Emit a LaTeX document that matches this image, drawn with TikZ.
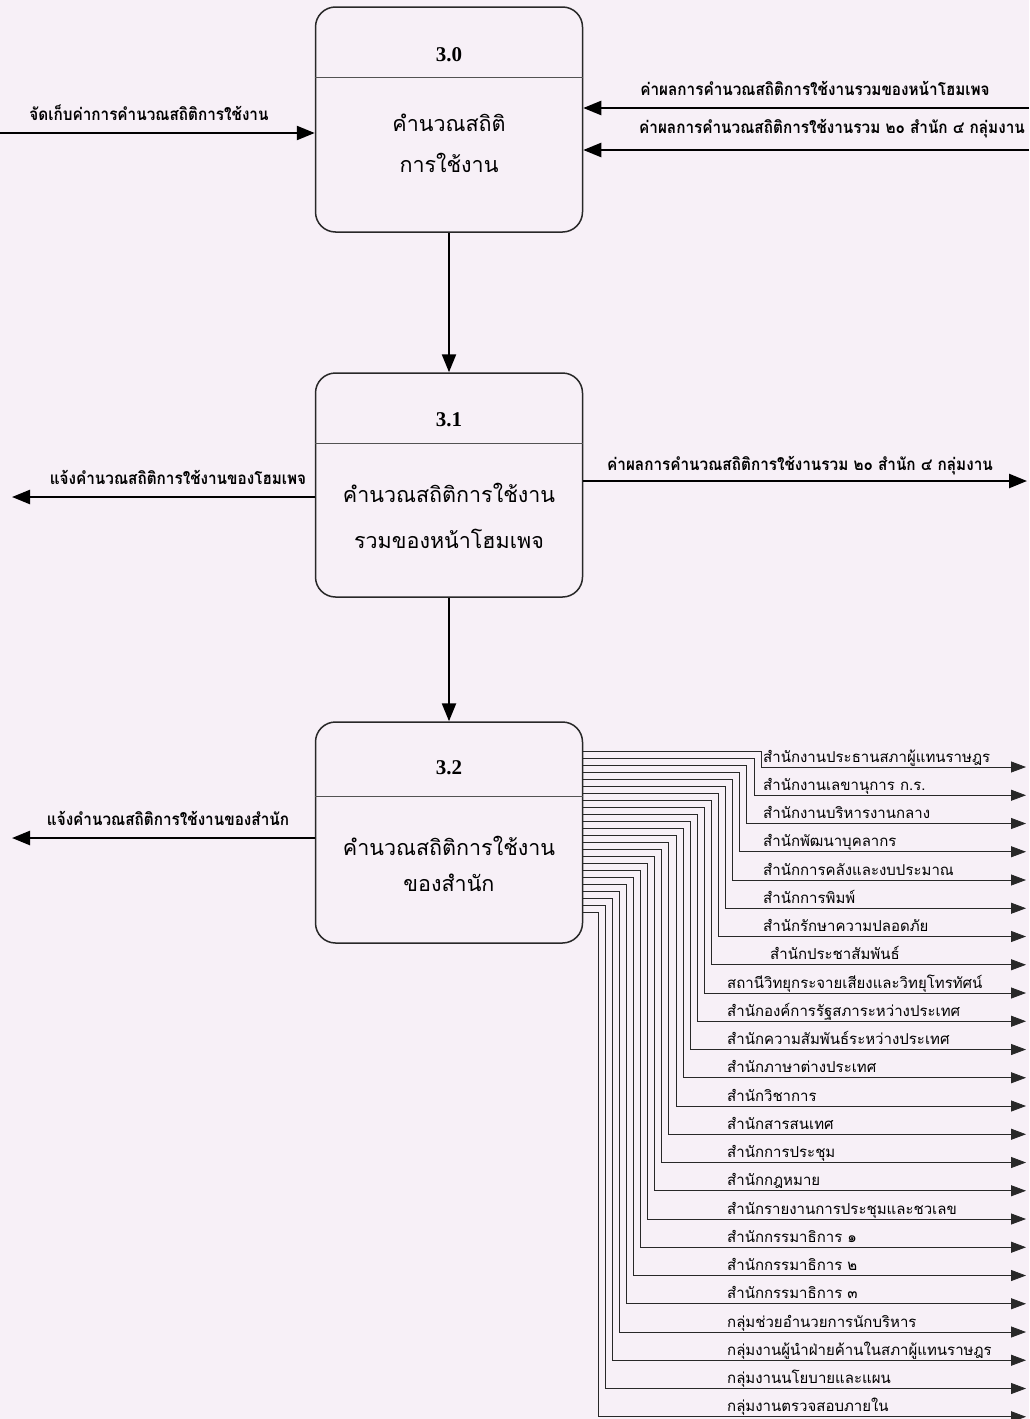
\documentclass[tikz,border=0pt]{standalone}
\usepackage{fontspec}
\setmainfont{Liberation Serif}
\newfontfamily\thai[Script=Thai]{Loma}
\newfontfamily\thaic[Script=Thai,FakeStretch=0.9]{Loma}
\usetikzlibrary{arrows.meta,calc}
\definecolor{bgc}{RGB}{247,240,247}
\definecolor{ln}{RGB}{40,40,40}
\begin{document}
\begin{tikzpicture}[x=1pt,y=-1pt,
  procbox/.style={draw=ln,line width=1.5pt,rounded corners=20pt,minimum width=267pt,inner sep=0pt},
  divider/.style={draw=ln!80,line width=0.9pt},
  numtxt/.style={font=\fontsize{21}{24}\selectfont\bfseries,inner sep=0pt},
  boxtxt/.style={font=\thai\fontsize{21.5}{26}\selectfont,inner sep=0pt},
  flowlbl/.style={font=\thaic\bfseries\fontsize{17}{19}\selectfont,inner sep=0pt},
  listlbl/.style={font=\thai\fontsize{15}{17}\selectfont,inner sep=0pt,anchor=base west},
  bigarrow/.style={draw=black,line width=2.4pt,-{Triangle[length=18pt,width=14pt]}},
  busline/.style={draw=ln,line width=0.8pt,-{Triangle[length=15pt,width=11pt]}}
]
\fill[bgc] (0,0) rectangle (1029,1419);
\useasboundingbox (0,0) rectangle (1029,1419);

% process boxes
\node[procbox,minimum height=225pt] (p30) at (449,119.5) {};
\node[procbox,minimum height=224pt] (p31) at (449,485) {};
\node[procbox,minimum height=221pt] (p32) at (449,832.5) {};

\draw[divider] (p30.west |- 0,77) -- (p30.east |- 0,77);
\draw[divider] (p31.west |- 0,443) -- (p31.east |- 0,443);
\draw[divider] (p32.west |- 0,796) -- (p32.east |- 0,796);

\node[numtxt] (n30) at (449,55) {3.0};
\node[numtxt] (n31) at (449,420) {3.1};
\node[numtxt] (n32) at (449,768) {3.2};

\node[boxtxt] (t30a) at (449,123) {คำนวณสถิติ};
\node[boxtxt] (t30b) at (449,163) {การใช้งาน};
\node[boxtxt] (t31a) at (449,493) {คำนวณสถิติการใช้งาน};
\node[boxtxt] (t31b) at (449,539) {รวมของหน้าโฮมเพจ};
\node[boxtxt] (t32a) at (449,846) {คำนวณสถิติการใช้งาน};
\node[boxtxt] (t32b) at (449,883) {ของสำนัก};

% flows into 3.0
\coordinate (e1) at (0,133);
\coordinate (e2) at (1029,108);
\coordinate (e3) at (1029,150);
\draw[bigarrow] (e1) -- (p30.west |- e1);
\draw[bigarrow] (e2) -- (p30.east |- e2);
\draw[bigarrow] (e3) -- (p30.east |- e3);
\node[flowlbl] (l1) at (149,113) {จัดเก็บค่าการคำนวณสถิติการใช้งาน};
\node[flowlbl] (l2) at (815,88) {ค่าผลการคำนวณสถิติการใช้งานรวมของหน้าโฮมเพจ};
\node[flowlbl] (l3) at (832,129) {ค่าผลการคำนวณสถิติการใช้งานรวม ๒๐ สำนัก ๔ กลุ่มงาน};

% between processes
\draw[bigarrow] (p30.south) -- (p31.north);
\draw[bigarrow] (p31.south) -- (p32.north);

% flows out of 3.1
\coordinate (e4) at (12,497);
\coordinate (e5) at (1027,481);
\draw[bigarrow] (p31.west |- e4) -- (e4);
\draw[bigarrow] (p31.east |- e5) -- (e5);
\node[flowlbl] (l4) at (178,477) {แจ้งคำนวณสถิติการใช้งานของโฮมเพจ};
\node[flowlbl] (l5) at (800,466) {ค่าผลการคำนวณสถิติการใช้งานรวม ๒๐ สำนัก ๔ กลุ่มงาน};

% flow out of 3.2 (left)
\coordinate (e6) at (12,838);
\draw[bigarrow] (p32.west |- e6) -- (e6);
\node[flowlbl] (l6) at (168,818) {แจ้งคำนวณสถิติการใช้งานของสำนัก};

% outputs of 3.2 to offices
\foreach \i/\t in {
 1/สำนักงานประธานสภาผู้แทนราษฎร,
 2/สำนักงานเลขานุการ ก.ร.,
 3/สำนักงานบริหารงานกลาง,
 4/สำนักพัฒนาบุคลากร,
 5/สำนักการคลังและงบประมาณ,
 6/สำนักการพิมพ์,
 7/สำนักรักษาความปลอดภัย,
 8/สำนักประชาสัมพันธ์,
 9/สถานีวิทยุกระจายเสียงและวิทยุโทรทัศน์,
 10/สำนักองค์การรัฐสภาระหว่างประเทศ,
 11/สำนักความสัมพันธ์ระหว่างประเทศ,
 12/สำนักภาษาต่างประเทศ,
 13/สำนักวิชาการ,
 14/สำนักสารสนเทศ,
 15/สำนักการประชุม,
 16/สำนักกฎหมาย,
 17/สำนักรายงานการประชุมและชวเลข,
 18/สำนักกรรมาธิการ ๑,
 19/สำนักกรรมาธิการ ๒,
 20/สำนักกรรมาธิการ ๓,
 21/กลุ่มช่วยอำนวยการนักบริหาร,
 22/กลุ่มงานผู้นำฝ่ายค้านในสภาผู้แทนราษฎร,
 23/กลุ่มงานนโยบายและแผน,
 24/กลุ่มงานตรวจสอบภายใน}{
  \pgfmathsetmacro{\by}{751+7*(\i-1)}
  \pgfmathsetmacro{\vx}{761-7.09*(\i-1)}
  \pgfmathsetmacro{\ry}{767+28.25*(\i-1)}
  \pgfmathsetmacro{\lx}{\i<8 ? 763 : (\i==8 ? 770 : 727)}
  \coordinate (o\i) at (1026,\ry);
  \draw[busline] (p32.east |- 0,\by) -| (\vx,\ry) -- (o\i);
  \node[listlbl] (r\i) at (\lx,\ry-5) {\t};
}
\end{tikzpicture}
\end{document}
